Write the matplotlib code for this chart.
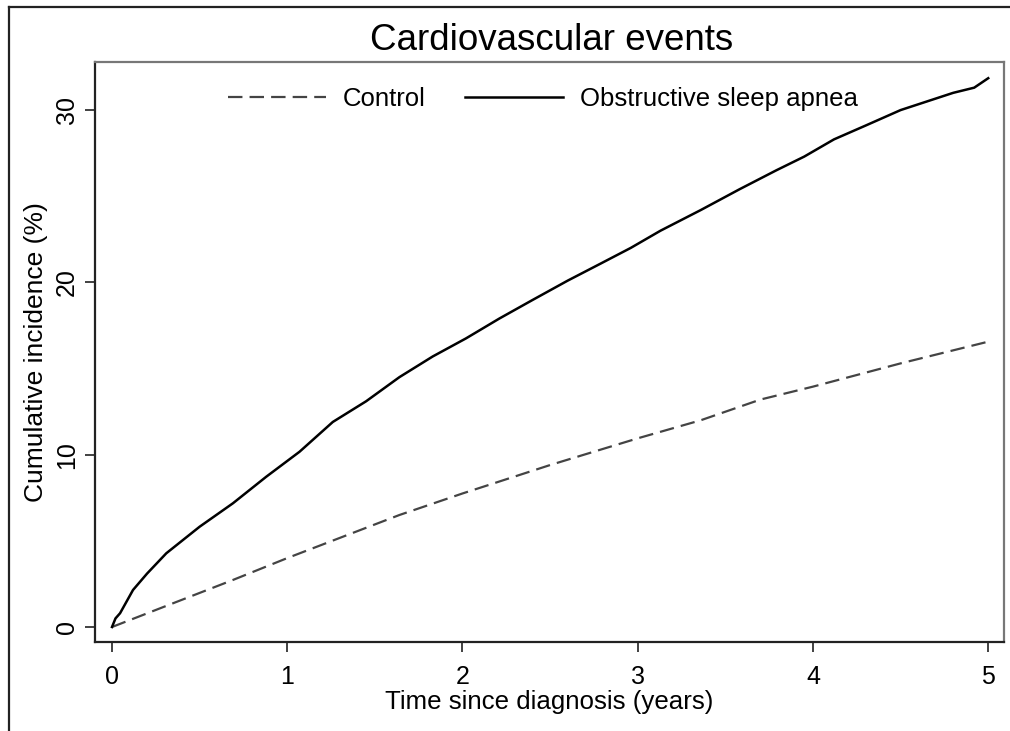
import matplotlib
matplotlib.use('Agg')
import matplotlib.pyplot as plt
from matplotlib.lines import Line2D

plt.rcParams['font.family'] = ['Liberation Sans', 'DejaVu Sans']

# Cumulative incidence (%)
osa_years = [0, 0.02, 0.046, 0.12, 0.2, 0.31, 0.5, 0.69, 0.88, 1.07, 1.26, 1.45, 1.64,
             1.83, 2.02, 2.21, 2.40, 2.60, 2.79, 2.96, 3.13, 3.36, 3.58, 3.79, 3.95,
             4.12, 4.30, 4.50, 4.65, 4.80, 4.92, 5.0]
osa_inc = [0, 0.5, 0.8, 2.15, 3.1, 4.28, 5.82, 7.18, 8.72, 10.17, 11.9, 13.1, 14.5,
           15.7, 16.75, 17.9, 18.98, 20.1, 21.1, 22.0, 23.0, 24.2, 25.4, 26.5, 27.3,
           28.3, 29.1, 30.0, 30.5, 31.0, 31.3, 31.85]

ctrl_years = [0, 0.69, 1.0, 1.64, 2.0, 2.5, 3.0, 3.36, 3.70, 4.0, 4.5, 5.0]
ctrl_inc = [0, 2.73, 4.0, 6.5, 7.75, 9.4, 10.95, 12.0, 13.2, 13.95, 15.3, 16.56]

xticks = [0, 1, 2, 3, 4, 5]
yticks = [0, 10, 20, 30]

fig = plt.figure(figsize=(10.1, 7.31), dpi=100)
W, H = 1010, 731
ax = fig.add_axes([95 / W, 1 - 642 / H, (1004 - 95) / W, (642 - 62) / H])

ax.plot(ctrl_years, ctrl_inc, color='#444444', lw=1.6, dashes=(6.5, 3.2), label='Control')
ax.plot(osa_years, osa_inc, color='black', lw=1.8, label='Obstructive sleep apnea')

ax.set_xlim(-0.097, 5.09)
ax.set_ylim(-0.87, 32.79)
ax.set_xticks(xticks)
ax.set_yticks(yticks)
ax.tick_params(direction='out', length=7.5, width=1.3, color='#333333')
ax.tick_params(axis='x', labelsize=18, pad=9)
ax.tick_params(axis='y', labelsize=18, pad=4)
for lbl in ax.get_yticklabels():
    lbl.set_rotation(90)
    lbl.set_va('center')

ax.set_xlabel('Time since diagnosis (years)', fontsize=18.6, va='top')
ax.xaxis.set_label_coords(0.5, -0.083)
ax.set_ylabel('Cumulative incidence (%)', fontsize=19)
ax.yaxis.set_label_coords(-0.052, 0.5)
fig.text(552 / W, 1 - 50 / H, 'Cardiovascular events', fontsize=26.5, ha='center', va='baseline')

for side in ['left', 'bottom']:
    ax.spines[side].set_color('#222222')
    ax.spines[side].set_linewidth(1.6)
for side in ['top', 'right']:
    ax.spines[side].set_color('#777777')
    ax.spines[side].set_linewidth(1.6)

ax.legend(loc='center left', bbox_to_anchor=(0.1463, 0.936), ncol=2, frameon=False,
          fontsize=18.5, handlelength=3.8, handletextpad=0.66, columnspacing=1.55,
          borderpad=0, borderaxespad=0)

# outer frame (cropped on right and bottom)
fig.add_artist(Line2D([9 / W, 9 / W], [0, 1 - 7 / H], transform=fig.transFigure,
                      color='#222222', lw=1.6))
fig.add_artist(Line2D([9 / W, 1], [1 - 7 / H, 1 - 7 / H], transform=fig.transFigure,
                      color='#222222', lw=1.6))

fig.savefig('out.png', dpi=100)
